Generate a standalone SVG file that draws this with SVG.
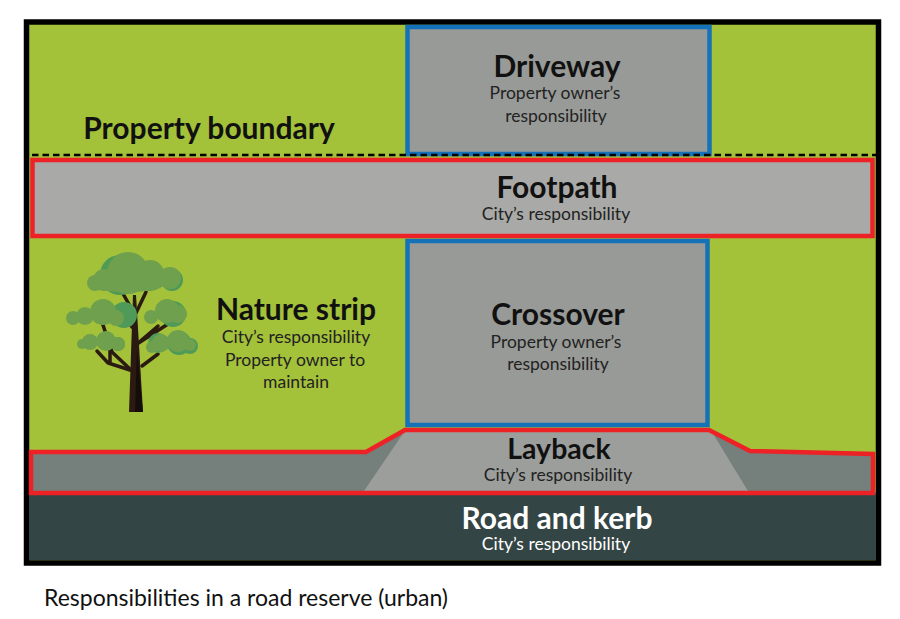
<svg xmlns="http://www.w3.org/2000/svg" width="900" height="619" viewBox="0 0 900 619">
<style>
text{font-family:"Lato","Liberation Sans",sans-serif;text-anchor:middle;fill:#111}
.h{font-size:30px;font-weight:700}
.s{font-size:17.5px;fill:#222}
.lt{fill:#fff}
.blue{fill:#989a97;stroke:#1672b8;stroke-width:4.5}
.red{stroke:#ec2227;stroke-width:4.5;fill:#a9aaa7}
.l{fill:#6fa04d}.d{fill:#4f9a58}
.b{fill:none;stroke:#2b1a12;stroke-linecap:round}
</style>
<rect width="900" height="619" fill="#fff"/>
<g id="ground">
<rect x="26.500" y="22" width="852" height="541" fill="#a4c13a" stroke="#000" stroke-width="5.500"/>
</g>
<g id="road"><rect x="29" y="493" width="847" height="67" fill="#344545"/></g>
<g id="driveway"><rect class="blue" x="407.500" y="27" width="302" height="127"/>
<text class="h" x="557" y="77">Driveway</text>
<text class="s" x="555" y="99">Property owner’s</text>
<text class="s" x="556" y="122">responsibility</text></g>
<g id="property-boundary"><text class="h" x="209" y="139">Property boundary</text></g>
<g id="boundary-line"><line x1="32" y1="155" x2="876" y2="155" stroke="#000" stroke-width="2.500" stroke-dasharray="6.500 4"/></g>
<g id="footpath"><rect class="red" x="32.500" y="160" width="840" height="76"/>
<text class="h" x="557" y="198">Footpath</text>
<text class="s" x="556" y="220">City’s responsibility</text></g>
<g id="layback">
<path d="M32 452H366L406 431H710L750 451L873 454V493H32Z" fill="#757f7b"/>
<path d="M364 491L404 432H712L748 491Z" fill="#9c9e9b"/>
<path d="M31 493V452H366L405 430H709L750 451L873 454V493Z" fill="none" stroke="#ec2227" stroke-width="4.500"/>
<text class="h" x="559" y="459" style="font-size:28.500px">Layback</text>
<text class="s" x="558" y="481">City’s responsibility</text></g>
<g id="crossover"><rect class="blue" x="407.500" y="241" width="300" height="184"/>
<text class="h" x="558" y="325">Crossover</text>
<text class="s" x="556" y="348">Property owner’s</text>
<text class="s" x="558" y="370">responsibility</text></g>
<g id="nature-strip"><text class="h" x="296" y="320">Nature strip</text>
<text class="s" x="296" y="343">City’s responsibility</text>
<text class="s" x="295" y="366">Property owner to</text>
<text class="s" x="296" y="388">maintain</text></g>
<g id="tree">
<path d="M129 412L133 295H136L143 412Z" fill="#2b1a12"/>
<path d="M135 412L137 350L143 412Z" fill="#150d09"/>
<path class="b" stroke-width="3.500" d="M132 327L121 310M134 313L122 292M136 313L146 292M131 370L112 352L102 322"/>
<path class="b" stroke-width="3.500" d="M130 370L108 363L97 351M137 344L158 326M142 366L158 354M137 344L168 324M110 362L110 350"/>
<g class="d"><circle cx="172" cy="280" r="11"/><circle cx="150" cy="276" r="15"/><circle cx="120" cy="275" r="20"/><circle cx="173" cy="314" r="13"/><circle cx="124" cy="315" r="13"/><circle cx="190" cy="346" r="8"/><circle cx="179" cy="343" r="12"/><circle cx="158" cy="343" r="10"/><circle cx="118" cy="344" r="7"/></g>
<g class="l"><circle cx="128" cy="273" r="21"/><circle cx="150" cy="274" r="14"/><circle cx="170" cy="278" r="11"/><circle cx="104" cy="280" r="11"/><circle cx="95" cy="283" r="8"/><ellipse cx="127" cy="284" rx="38" ry="8"/>
<circle cx="103" cy="312" r="13"/><circle cx="85" cy="316" r="9"/><circle cx="73" cy="318" r="7"/><circle cx="116" cy="318" r="8"/>
<circle cx="167" cy="311" r="12"/><circle cx="178" cy="314" r="9"/><circle cx="151" cy="317" r="7"/>
<circle cx="106" cy="341" r="10"/><circle cx="90" cy="342" r="8"/><circle cx="82" cy="344" r="5"/><circle cx="118" cy="344" r="7"/>
<circle cx="178" cy="341" r="11"/><circle cx="161" cy="343" r="9"/><circle cx="152" cy="347" r="6"/><circle cx="190" cy="345" r="6"/></g>
</g>
<g id="road-label"><text class="h lt" x="557" y="529">Road and kerb</text>
<text class="s lt" x="556" y="550">City’s responsibility</text></g>
<g id="caption"><text x="246" y="606" style="font-size:23px;fill:#111">Responsibilities in a road reserve (urban)</text></g>
</svg>
